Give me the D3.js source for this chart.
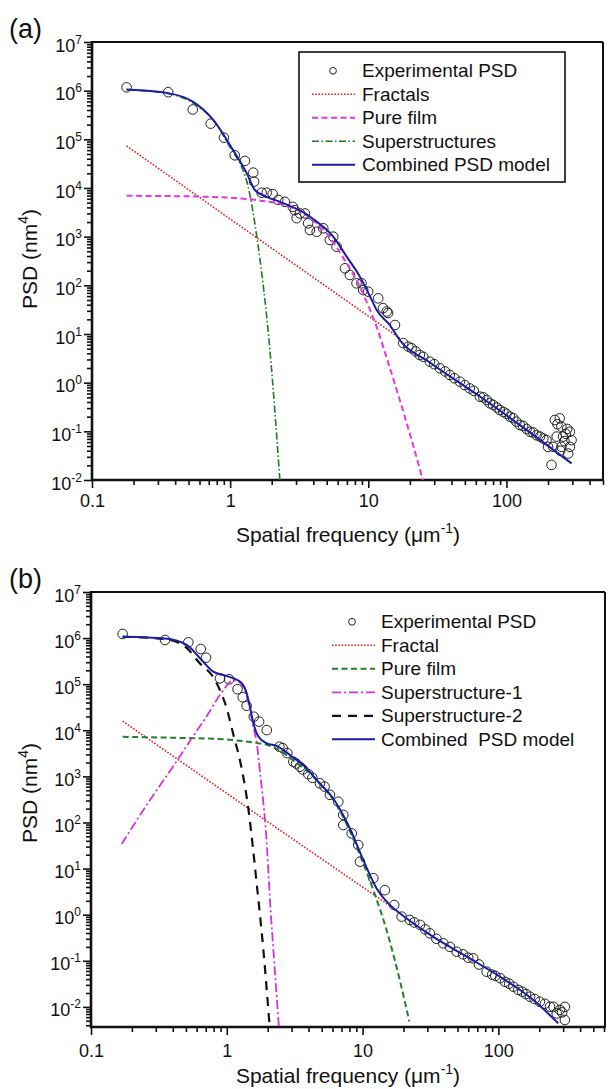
<!DOCTYPE html>
<html>
<head>
<meta charset="utf-8">
<script src="https://cdn.jsdelivr.net/npm/d3@7"></script>
<style>
  body { margin: 0; background: #fff; }
  svg text { font-family: "Liberation Sans", Arial, Helvetica, sans-serif; fill: #111; }
</style>
</head>
<body>
<div id="chart"></div>
<script>
  // shared tick values
  var xMajor = [0.1, 1, 10, 100];
  var xTickLabels = ["0.1", "1", "10", "100"];
  var yExponents = [-2, -1, 0, 1, 2, 3, 4, 5, 6, 7];

  // ---- panel (a) : [spatial frequency (1/um), PSD (nm^4)] ----
  var expA = [
    [0.178, 1.17e6], [0.356, 9.3e5], [0.536, 4.1e5], [0.723, 2.1e5], [0.902, 1.08e5],
    [1.08, 4.7e4], [1.28, 3.6e4], [1.47, 2.07e4], [1.49, 1.35e4], [1.69, 8.0e3],
    [1.84, 8.0e3], [2.03, 7.5e3], [2.23, 5.7e3], [2.49, 5.2e3], [2.84, 4.1e3],
    [2.94, 3.5e3], [3.03, 2.4e3], [3.2, 3.0e3], [3.48, 3.0e3], [3.67, 1.88e3],
    [3.78, 1.37e3], [4.23, 1.26e3], [4.72, 1.49e3], [5.27, 855], [5.57, 1.0e3],
    [5.9, 622], [6.78, 224], [7.36, 163], [8.22, 110], [8.93, 110],
    [9.18, 80], [9.98, 74], [11.8, 54], [12.8, 34], [13.6, 29],
    [13.9, 27], [15.6, 15.3], [17.9, 6.5], [19.5, 5.5], [20.6, 5.1],
    [22, 4.4], [23.6, 3.7], [25, 3.4], [27.9, 2.7], [30, 2.4],
    [33, 1.97], [36, 1.7], [38.9, 1.44], [42, 1.23], [46, 1.05],
    [50, 0.89], [54.3, 0.76], [58, 0.68], [64.3, 0.515], [68, 0.50],
    [72, 0.44], [76, 0.376], [80, 0.35], [85, 0.31], [89.5, 0.274],
    [95, 0.25], [100, 0.23], [106, 0.20], [112, 0.186], [118, 0.158],
    [125, 0.135], [132, 0.129], [140, 0.112], [148, 0.098], [156, 0.095],
    [165, 0.083], [175, 0.078], [185, 0.071], [195, 0.066], [200, 0.048],
    [212, 0.0204], [218, 0.048], [224, 0.171], [231, 0.078], [234, 0.14],
    [243, 0.185], [245, 0.04], [250, 0.125], [250, 0.048], [257, 0.078],
    [263, 0.063], [269, 0.089], [275, 0.112], [280, 0.035], [288, 0.098],
    [288, 0.048], [296, 0.066]
  ];
  var fractalA = [[0.178, 7.3e4], [2.05, 550], [16.9, 8.2]];
  var pureFilmA = [
    [0.178, 6.9e3], [0.398, 6.8e3], [1.0, 6.3e3], [1.58, 5.6e3], [2.51, 4.4e3],
    [3.48, 2.9e3], [5.01, 1.15e3], [6.97, 282], [8.69, 93], [10.3, 31],
    [11.5, 14], [13.6, 3.2], [16.9, 0.44], [21, 0.055], [24.8, 0.01]
  ];
  var superA = [
    [0.178, 1.05e6], [0.356, 8.7e5], [0.537, 5.6e5], [0.755, 2.5e5], [1.05, 5.4e4],
    [1.18, 3.2e4], [1.35, 1.06e4], [1.56, 1.0e3], [1.94, 4.7], [2.29, 0.01]
  ];
  var combinedA = [
    [0.178, 1.06e6], [0.356, 8.9e5], [0.54, 5.9e5], [0.755, 2.5e5], [1.05, 6.0e4],
    [1.32, 2.0e4], [1.51, 9.1e3], [1.84, 6.6e3], [2.29, 5.2e3], [3.48, 3.0e3],
    [3.99, 2.3e3], [5.57, 1.0e3], [6.97, 389], [8.69, 151], [10.3, 59],
    [11.5, 31], [14.3, 15.3], [16.9, 7.5], [27.9, 2.6], [64.3, 0.52],
    [148, 0.095], [296, 0.022]
  ];
  var legendA = ["Experimental PSD", "Fractals", "Pure film", "Superstructures", "Combined PSD model"];

  // ---- panel (b) ----
  var expB = [
    [0.171, 1.23e6], [0.351, 9.1e5], [0.521, 8.1e5], [0.643, 5.8e5], [0.703, 3.76e5],
    [0.891, 1.34e5], [1.04, 1.28e5], [1.20, 7.8e4], [1.31, 5.2e4], [1.40, 3.4e4],
    [1.58, 1.97e4], [1.73, 1.54e4], [1.97, 1.01e4], [2.44, 4.4e3], [2.58, 4.1e3],
    [2.79, 3.2e3], [3.09, 2.08e3], [3.24, 1.9e3], [3.46, 1.62e3], [3.63, 1.41e3],
    [3.98, 1.12e3], [4.27, 930], [4.85, 708], [5.25, 600], [5.75, 398],
    [6.62, 282], [7.21, 146], [7.21, 88], [8.32, 58], [9.29, 32.5],
    [9.57, 14.1], [12.0, 6.2], [14.6, 3.4], [17.1, 1.62], [19.4, 0.906],
    [22.3, 0.767], [24, 0.68], [26.5, 0.60], [29, 0.48], [31.3, 0.394],
    [35, 0.30], [39.3, 0.239], [44, 0.20], [49.3, 0.157], [55, 0.138],
    [60, 0.117], [65.3, 0.113], [72, 0.083], [82, 0.058], [90, 0.05],
    [95, 0.047], [103, 0.042], [112, 0.035], [120, 0.032], [129, 0.0274],
    [140, 0.0234], [150, 0.0214], [160, 0.019], [171, 0.0166], [185, 0.0148],
    [202, 0.0129], [220, 0.0117], [240, 0.0101], [255, 0.010], [269, 0.0072],
    [284, 0.0086], [295, 0.0076], [309, 0.010], [309, 0.0052]
  ];
  var fractalB = [[0.171, 1.58e4], [1.97, 107], [15.9, 1.55]];
  var pureFilmB = [
    [0.171, 7.2e3], [0.398, 6.9e3], [1.0, 6.3e3], [1.58, 5.4e3], [2.0, 4.8e3],
    [2.51, 3.5e3], [3.16, 2.1e3], [3.98, 1.26e3], [5.01, 631], [6.31, 263],
    [7.94, 72], [10.1, 13], [12.0, 3.4], [15.0, 0.47], [18.8, 0.038], [22.1, 0.0048]
  ];
  var super1B = [
    [0.168, 34], [0.272, 308], [0.382, 1.31e3], [0.536, 5.9e3], [0.728, 2.26e4],
    [0.923, 6.8e4], [1.11, 1.2e5], [1.21, 1.15e5], [1.31, 9.0e4], [1.43, 4.5e4],
    [1.56, 1.26e4], [1.67, 4.8e3], [1.75, 1.38e3], [1.85, 308], [1.95, 54],
    [2.08, 2.08], [2.23, 0.104], [2.42, 0.0037]
  ];
  var super2B = [
    [0.171, 1.07e6], [0.351, 9.5e5], [0.501, 6.3e5], [0.635, 2.8e5], [0.796, 1.41e5],
    [0.891, 7.4e4], [1.0, 2.95e4], [1.12, 7.9e3], [1.25, 2.24e3], [1.44, 204],
    [1.66, 4.8], [1.86, 0.17], [2.06, 0.0044]
  ];
  var combinedB = [
    [0.171, 1.07e6], [0.351, 9.8e5], [0.507, 7.1e5], [0.635, 3.65e5], [0.796, 1.87e5],
    [0.942, 1.58e5], [1.12, 1.34e5], [1.29, 1.05e5], [1.40, 6.4e4], [1.48, 3.25e4],
    [1.57, 1.42e4], [1.71, 7.3e3], [1.97, 5.2e3], [2.33, 4.6e3], [2.92, 2.9e3],
    [3.87, 1.5e3], [4.59, 832], [6.08, 331], [8.07, 74], [10.1, 15.5],
    [12.7, 3.7], [15.9, 1.62], [18.8, 1.07], [33.2, 0.33], [58.5, 0.123],
    [103, 0.045], [181, 0.0141], [276, 0.0044]
  ];
  var legendB = ["Experimental PSD", "Fractal", "Pure film", "Superstructure-1", "Superstructure-2", "Combined  PSD model"];

  var svg = d3.select("#chart").append("svg")
    .attr("width", 609)
    .attr("height", 1089);
  var defs = svg.append("defs");

  var blue = "#1c1ca6";

  var panels = [
    {
      name: "a", label: "(a)", labelY: 38,
      left: 92, right: 603, top: 42, bottom: 480,
      xDomain: [0.1, 500], yDomain: [0.01, 1e7],
      xLabelPad: 6, yTitleCenter: 259, xTitleY: 542,
      exp: expA,
      series: [
        { data: fractalA, color: "#e3241b", dash: "1.6,1.6", width: 1.6, straight: true },
        { data: pureFilmA, color: "#e535e5", dash: "6,3.5", width: 2 },
        { data: superA, color: "#207a20", dash: "7,2.5,1.5,2.5", width: 1.6 },
        { data: combinedA, color: blue, dash: null, width: 2 }
      ],
      legend: legendA,
      legendBox: [299, 52, 266, 130],
      legendSym: [312, 355, 333], legendTextX: 362, legendBase: 77.3, legendStep: 23.5
    },
    {
      name: "b", label: "(b)", labelY: 588,
      left: 91, right: 605, top: 592, bottom: 1027,
      xDomain: [0.1, 610], yDomain: [0.00366, 1e7],
      xLabelPad: 9, yTitleCenter: 793, xTitleY: 1083,
      exp: expB,
      series: [
        { data: fractalB, color: "#e3241b", dash: "1.6,1.6", width: 1.6, straight: true },
        { data: pureFilmB, color: "#22802a", dash: "6,3.5", width: 2 },
        { data: super1B, color: "#d633d6", dash: "9,3,2,3", width: 1.8 },
        { data: super2B, color: "#111", dash: "9,7", width: 2.2 },
        { data: combinedB, color: blue, dash: null, width: 2 }
      ],
      legend: legendB,
      legendBox: null,
      legendSym: [332, 375, 352], legendTextX: 381, legendBase: 628.3, legendStep: 23.5
    }
  ];

  function styleAxis(sel) {
    sel.select(".domain").remove();
    sel.attr("font-family", null).attr("font-size", null);
    sel.selectAll("line").attr("stroke", "#111").attr("stroke-width", 1.6);
  }

  function drawPanel(p) {
    var x = d3.scaleLog().domain(p.xDomain).range([p.left, p.right]);
    var y = d3.scaleLog().domain(p.yDomain).range([p.bottom, p.top]);
    var g = svg.append("g");

    defs.append("clipPath").attr("id", "clip-" + p.name)
      .append("rect")
      .attr("x", p.left).attr("y", p.top)
      .attr("width", p.right - p.left).attr("height", p.bottom - p.top);

    // tick values
    var xMinor = [];
    xMajor.forEach(function(d) {
      for (var k = 2; k <= 9; k++) if (d * k <= p.xDomain[1]) xMinor.push(d * k);
    });
    var yMajor = yExponents.map(function(e) { return Math.pow(10, e); });
    var yMinor = [];
    for (var e = -3; e < 7; e++) {
      for (var k = 2; k <= 9; k++) {
        var v = k * Math.pow(10, e);
        if (v >= p.yDomain[0] && v <= p.yDomain[1]) yMinor.push(v);
      }
    }

    // x axis
    g.append("g").attr("transform", "translate(0," + p.bottom + ")")
      .call(d3.axisBottom(x).tickValues(xMinor).tickSize(5).tickSizeOuter(0).tickFormat(""))
      .call(styleAxis);
    var xAx = g.append("g").attr("transform", "translate(0," + p.bottom + ")")
      .call(d3.axisBottom(x).tickValues(xMajor).tickSize(8).tickSizeOuter(0)
        .tickPadding(p.xLabelPad)
        .tickFormat(function(d, i) { return xTickLabels[i]; }))
      .call(styleAxis);
    xAx.selectAll("text").attr("font-size", 18);

    // y axis
    g.append("g").attr("transform", "translate(" + p.left + ",0)")
      .call(d3.axisLeft(y).tickValues(yMinor).tickSize(5).tickSizeOuter(0).tickFormat(""))
      .call(styleAxis);
    g.append("g").attr("transform", "translate(" + p.left + ",0)")
      .call(d3.axisLeft(y).tickValues(yMajor).tickSize(8).tickSizeOuter(0).tickFormat(""))
      .call(styleAxis);

    var yl = g.append("g").selectAll("text").data(yMajor).join("text")
      .attr("x", p.left - 10)
      .attr("y", function(d) { return y(d) + 9.5; })
      .attr("text-anchor", "end")
      .attr("font-size", 18);
    yl.append("tspan").text("10");
    yl.append("tspan").attr("dy", -8).attr("font-size", 12)
      .text(function(d) { return Math.round(Math.log10(d)); });

    // frame
    g.append("line").attr("x1", p.left).attr("x2", p.right).attr("y1", p.top).attr("y2", p.top)
      .attr("stroke", "#111").attr("stroke-width", 2);
    g.append("line").attr("x1", p.right).attr("x2", p.right).attr("y1", p.top).attr("y2", p.bottom)
      .attr("stroke", "#111").attr("stroke-width", 2);
    g.append("line").attr("x1", p.left).attr("x2", p.left).attr("y1", p.top - 1).attr("y2", p.bottom + 1)
      .attr("stroke", "#111").attr("stroke-width", 2.6);
    g.append("line").attr("x1", p.left - 1).attr("x2", p.right + 1).attr("y1", p.bottom).attr("y2", p.bottom)
      .attr("stroke", "#111").attr("stroke-width", 2.6);

    // data
    var plot = g.append("g").attr("clip-path", "url(#clip-" + p.name + ")");

    plot.selectAll("circle.exp").data(p.exp).join("circle")
      .attr("class", "exp")
      .attr("cx", function(d) { return x(d[0]); })
      .attr("cy", function(d) { return y(d[1]); })
      .attr("r", 4.8)
      .attr("fill", "none")
      .attr("stroke", "#222")
      .attr("stroke-width", 1);

    p.series.forEach(function(s) {
      var line = d3.line()
        .x(function(d) { return x(d[0]); })
        .y(function(d) { return y(d[1]); })
        .curve(s.straight ? d3.curveLinear : d3.curveMonotoneX);
      plot.append("path")
        .datum(s.data)
        .attr("d", line)
        .attr("fill", "none")
        .attr("stroke", s.color)
        .attr("stroke-width", s.width)
        .attr("stroke-dasharray", s.dash);
    });

    // legend
    var lg = g.append("g");
    if (p.legendBox) {
      lg.append("rect")
        .attr("x", p.legendBox[0]).attr("y", p.legendBox[1])
        .attr("width", p.legendBox[2]).attr("height", p.legendBox[3])
        .attr("fill", "#fff").attr("stroke", "#111").attr("stroke-width", 1.6);
    }
    p.legend.forEach(function(name, i) {
      var base = p.legendBase + i * p.legendStep;
      var cy = base - 6.5;
      if (i === 0) {
        lg.append("circle").attr("cx", p.legendSym[2]).attr("cy", cy).attr("r", 3.4)
          .attr("fill", "none").attr("stroke", "#222").attr("stroke-width", 1);
      } else {
        var s = p.series[i - 1];
        lg.append("line")
          .attr("x1", p.legendSym[0]).attr("x2", p.legendSym[1])
          .attr("y1", cy).attr("y2", cy)
          .attr("stroke", s.color).attr("stroke-width", s.width)
          .attr("stroke-dasharray", s.dash);
      }
      lg.append("text")
        .attr("x", p.legendTextX).attr("y", base)
        .attr("font-size", 19)
        .style("white-space", "pre")
        .text(name);
    });

    // titles
    svg.append("text")
      .attr("x", 9).attr("y", p.labelY)
      .attr("font-size", 27)
      .text(p.label);

    var yt = svg.append("text")
      .attr("transform", "translate(37," + p.yTitleCenter + ") rotate(-90)")
      .attr("text-anchor", "middle")
      .attr("font-size", 21);
    yt.append("tspan").text("PSD (nm");
    yt.append("tspan").attr("dy", -9).attr("font-size", 14).text("4");
    yt.append("tspan").attr("dy", 9).text(")");

    var xt = svg.append("text")
      .attr("x", 348).attr("y", p.xTitleY)
      .attr("text-anchor", "middle")
      .attr("font-size", 21);
    xt.append("tspan").text("Spatial frequency (\u03bcm");
    xt.append("tspan").attr("dy", -9).attr("font-size", 14).text("-1");
    xt.append("tspan").attr("dy", 9).text(")");
  }

  panels.forEach(drawPanel);
</script>
</body>
</html>
